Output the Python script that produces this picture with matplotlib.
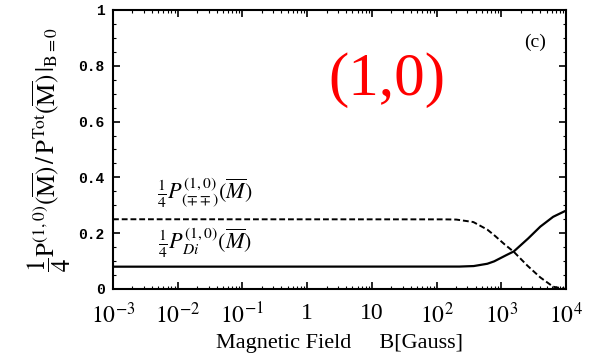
import numpy as np
import matplotlib
matplotlib.use("Agg")
import matplotlib.pyplot as plt
from matplotlib.ticker import FixedLocator, LogLocator, NullFormatter

plt.rcParams['font.family'] = ['Liberation Serif', 'DejaVu Serif']
plt.rcParams['mathtext.fontset'] = 'stix'

# magnetic field values (Gauss) and curve values
field = [1e-3, 1e-2, 1e-1, 1, 10, 100, 200, 370, 600, 760, 1070, 1550, 2470, 3980, 6350, 1e4]
p_mpmp = [0.25, 0.25, 0.25, 0.25, 0.25, 0.25, 0.249, 0.24, 0.214, 0.195, 0.164, 0.134, 0.086, 0.042, 0.008, 0.0]
p_di = [0.08, 0.08, 0.08, 0.08, 0.08, 0.08, 0.08, 0.082, 0.09, 0.098, 0.116, 0.134, 0.176, 0.223, 0.259, 0.281]

xticks = [1e-3, 1e-2, 1e-1, 1, 10, 1e2, 1e3, 1e4]
xlabels = [r'$10^{-3}$', r'$10^{-2}$', r'$10^{-1}$', '1', '10', r'$10^{2}$', r'$10^{3}$', r'$10^{4}$']
yticks = [0, 0.2, 0.4, 0.6, 0.8, 1]
ylabels = ['0', '0.2', '0.4', '0.6', '0.8', '1']

fig = plt.figure(figsize=(6.04, 3.58), dpi=100)
ax = fig.add_axes([113/604, 1-289/358, (566-113)/604, (289-10)/358])

# smooth in log space
lx = np.log10(field)
xs = np.linspace(lx[0], lx[-1], 600)
ax.plot(10**xs, np.interp(xs, lx, p_mpmp), 'k--', lw=1.4, dashes=(3, 1.5))
ax.plot(10**xs, np.interp(xs, lx, p_di), 'k-', lw=1.6)

ax.set_xscale('log')
ax.set_xlim(1e-3, 1e4)
ax.set_ylim(0, 1)
ax.set_xticks(xticks)
ax.set_xticklabels(xlabels, fontsize=17)
ax.xaxis.set_minor_locator(LogLocator(base=10, subs=np.arange(2, 10)))
ax.xaxis.set_minor_formatter(NullFormatter())
ax.set_yticks(yticks)
ax.set_yticklabels(ylabels, fontsize=10.5, family='Liberation Mono', fontweight='bold')
ax.yaxis.set_minor_locator(FixedLocator(np.arange(0, 1.01, 0.05)))
ax.tick_params(which='both', direction='in', top=True, right=True)
ax.tick_params(which='major', length=5, width=1.2)
ax.tick_params(which='minor', length=2.5, width=0.8)
ax.tick_params(axis='x', which='major', pad=10)
ax.tick_params(axis='y', which='major', pad=6)
for s in ax.spines.values():
    s.set_linewidth(1.5)

ax.set_xlabel('Magnetic Field     B[Gauss]', fontsize=16, labelpad=4)
ax.set_ylabel(r'$\dfrac{1}{4}\mathrm{P}^{(1,0)}(\overline{\mathrm{M}})\,/\,\mathrm{P}^{\mathrm{Tot}}(\overline{\mathrm{M}})\,|_{\mathrm{B=0}}$',
              fontsize=18, labelpad=4)

ax.text(0.203, 0.345, r'$\frac{1}{4}P^{(1,0)}_{(\mp\mp)}(\overline{M})$', fontsize=16, ha='center', va='center',
        transform=ax.transAxes)
ax.text(0.203, 0.165, r'$\frac{1}{4}P^{(1,0)}_{Di}(\overline{M})$', fontsize=16, ha='center', va='center',
        transform=ax.transAxes)
ax.text(0.955, 0.885, '(c)', transform=ax.transAxes, fontsize=14, ha='right', va='center')
ax.text(0.605, 0.75, '(1,0)', transform=ax.transAxes, fontsize=44, color='red', ha='center', va='center')

fig.savefig('out.png', dpi=100)
